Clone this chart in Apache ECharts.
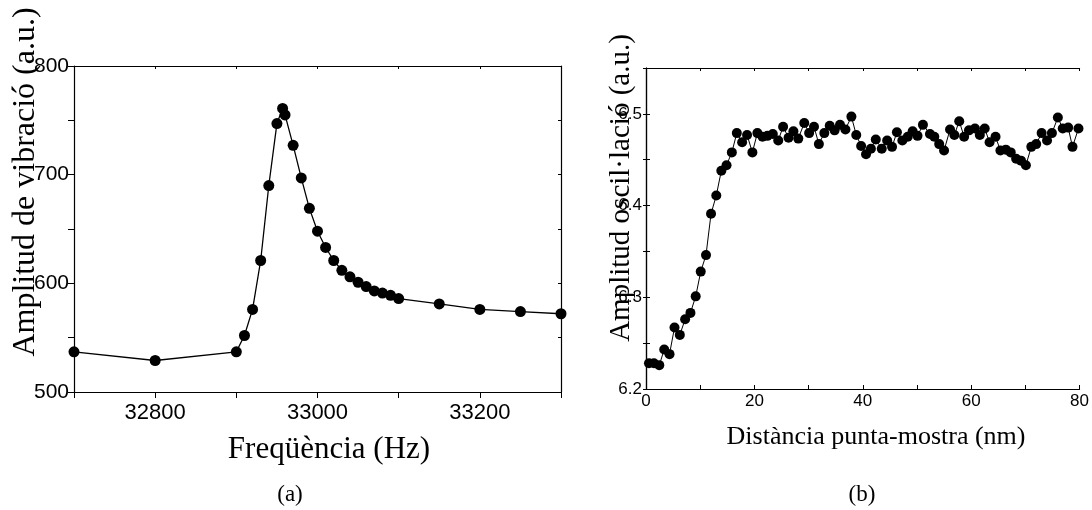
<!DOCTYPE html>
<html>
<head>
<meta charset="utf-8">
<script src="https://cdn.jsdelivr.net/npm/echarts@6/dist/echarts.min.js"></script>
<style>
  html, body { margin: 0; padding: 0; background: #fff; }
  #chart { width: 1092px; height: 510px; }
</style>
</head>
<body>
<div id="chart"></div>
<script>
// (a) resonance curve
const freq = [32700, 32800, 32900, 32910, 32920, 32930, 32940, 32950, 32957, 32960, 32970, 32980, 32990, 33000,
  33010, 33020, 33030, 33040, 33050, 33060, 33070, 33080, 33090, 33100, 33150, 33200, 33250, 33300];
const amp = [537, 529, 537, 552, 576, 621, 690, 747, 761, 755, 727, 697, 669, 648,
  633, 621, 612, 606, 601, 597, 593, 591, 589, 586, 581, 576, 574, 572];
const freqLabels = [32800, 33000, 33200];
const ampLabels = [500, 600, 700, 800];

// (b) approach curve
const dist = [0.55, 1.47, 2.45, 3.36, 4.34, 5.26, 6.24, 7.22, 8.2, 9.17, 10.1, 11.07, 12.0, 12.97, 13.9, 14.86,
  15.84, 16.76, 17.74, 18.65, 19.63, 20.55, 21.5, 22.4, 23.4, 24.4, 25.3, 26.3, 27.2, 28.1, 29.2, 30.1,
  31.0, 31.9, 32.9, 33.9, 34.8, 35.8, 36.8, 37.9, 38.8, 39.7, 40.6, 41.5, 42.4, 43.5, 44.5, 45.4, 46.3,
  47.3, 48.3, 49.2, 50.1, 51.1, 52.4, 53.2, 54.1, 55.0, 56.1, 56.9, 57.8, 58.7, 59.6, 60.7, 61.6, 62.5,
  63.4, 64.5, 65.4, 66.4, 67.3, 68.3, 69.2, 70.1, 71.1, 72.0, 73.0, 74.0, 74.9, 76.0, 76.9, 77.9, 78.7, 79.8];
const osc = [6.228, 6.228, 6.226, 6.243, 6.238, 6.267, 6.259, 6.276, 6.283, 6.301, 6.328, 6.346, 6.391, 6.411,
  6.438, 6.444, 6.458, 6.479, 6.469, 6.477, 6.458, 6.479, 6.475, 6.476, 6.478, 6.471, 6.486, 6.474, 6.481,
  6.473, 6.490, 6.479, 6.486, 6.467, 6.479, 6.487, 6.482, 6.488, 6.483, 6.497, 6.477, 6.465, 6.456, 6.462,
  6.472, 6.462, 6.471, 6.464, 6.480, 6.471, 6.475, 6.481, 6.476, 6.488, 6.478, 6.475, 6.467, 6.460, 6.483,
  6.477, 6.492, 6.475, 6.482, 6.484, 6.477, 6.484, 6.469, 6.475, 6.460, 6.461, 6.458, 6.451, 6.449, 6.444,
  6.464, 6.467, 6.479, 6.471, 6.479, 6.496, 6.484, 6.485, 6.464, 6.484];
const distLabels = [0, 20, 40, 60, 80];
const oscLabels = [6.2, 6.3, 6.4, 6.5];

const sans = 'Liberation Sans';
const serif = 'Liberation Serif';
const ink = '#000';
const line = { show: true, lineStyle: { color: ink, width: 1.2 } };
const hidden = { show: false };

const chart = echarts.init(document.getElementById('chart'), null, { renderer: 'canvas' });

const pair = (xs, ys) => xs.map((x, i) => [x, ys[i]]);
const pick = (list, fmt) => (v) => list.some(l => Math.abs(l - v) < 1e-6) ? fmt(v) : '';

chart.setOption({
  animation: false,
  backgroundColor: '#fff',
  grid: [
    { left: 74, top: 66, width: 487, height: 326 },
    { left: 646, top: 68, width: 436, height: 321 }
  ],
  xAxis: [
    { gridIndex: 0, type: 'value', min: 32700, max: 33300, interval: 100, axisLine: line,
      axisTick: { show: true, inside: false, length: 6, lineStyle: { color: ink } }, splitLine: hidden,
      axisLabel: { color: ink, fontFamily: sans, fontSize: 22, margin: 10, formatter: pick(freqLabels, v => String(v)) } },
    { gridIndex: 0, type: 'value', position: 'top', min: 32700, max: 33300, interval: 100, axisLine: line,
      axisTick: { show: true, inside: true, length: 3, lineStyle: { color: ink } }, axisLabel: hidden, splitLine: hidden },
    { gridIndex: 1, type: 'value', min: 0, max: 80, interval: 10, axisLine: line,
      axisTick: { show: true, inside: true, length: 4, lineStyle: { color: ink } }, splitLine: hidden,
      axisLabel: { color: ink, fontFamily: sans, fontSize: 17, margin: 4, formatter: pick(distLabels, v => String(v)) } },
    { gridIndex: 1, type: 'value', position: 'top', min: 0, max: 80, interval: 10, axisLine: line,
      axisTick: { show: true, inside: true, length: 3, lineStyle: { color: ink } }, axisLabel: hidden, splitLine: hidden }
  ],
  yAxis: [
    { gridIndex: 0, type: 'value', min: 500, max: 800, interval: 50, axisLine: line,
      axisTick: { show: true, inside: false, length: 6, lineStyle: { color: ink } }, splitLine: hidden,
      axisLabel: { color: ink, fontFamily: sans, fontSize: 21, margin: 5, formatter: pick(ampLabels, v => String(v)) } },
    { gridIndex: 0, type: 'value', position: 'right', min: 500, max: 800, interval: 50, axisLine: line,
      axisTick: { show: true, inside: true, length: 3, lineStyle: { color: ink } }, axisLabel: hidden, splitLine: hidden },
    { gridIndex: 1, type: 'value', min: 6.2, max: 6.55, interval: 0.05, axisLine: line,
      axisTick: { show: true, inside: true, length: 4, lineStyle: { color: ink } }, splitLine: hidden,
      axisLabel: { color: ink, fontFamily: sans, fontSize: 17, margin: 4, showMaxLabel: false, formatter: pick(oscLabels, v => v.toFixed(1)) } },
    { gridIndex: 1, type: 'value', position: 'right', min: 6.2, max: 6.55, interval: 0.05, axisLine: line,
      axisTick: { show: true, inside: true, length: 3, lineStyle: { color: ink } }, axisLabel: hidden, splitLine: hidden }
  ],
  series: [
    { type: 'line', xAxisIndex: 0, yAxisIndex: 0, data: pair(freq, amp), symbol: 'circle', symbolSize: 11,
      showAllSymbol: true, lineStyle: { color: ink, width: 1.3 }, itemStyle: { color: ink } },
    { type: 'line', xAxisIndex: 2, yAxisIndex: 2, data: pair(dist, osc), symbol: 'circle', symbolSize: 10,
      showAllSymbol: true, lineStyle: { color: ink, width: 1 }, itemStyle: { color: ink } }
  ],
  graphic: [
    { type: 'text', x: 26, y: 182, rotation: Math.PI / 2, z: 10,
      style: { text: 'Amplitud de vibració (a.u.)', font: '32px "' + serif + '"', fill: ink, align: 'center', verticalAlign: 'middle' } },
    { type: 'text', x: 329, y: 450,
      style: { text: 'Freqüència (Hz)', font: '31px "' + serif + '"', fill: ink, align: 'center', verticalAlign: 'middle' } },
    { type: 'text', x: 290, y: 495,
      style: { text: '(a)', font: '23px "' + serif + '"', fill: ink, align: 'center', verticalAlign: 'middle' } },
    { type: 'text', x: 621, y: 188, rotation: Math.PI / 2, z: 10,
      style: { text: 'Amplitud oscil·lació (a.u.)', font: '29px "' + serif + '"', fill: ink, align: 'center', verticalAlign: 'middle' } },
    { type: 'text', x: 876, y: 437,
      style: { text: 'Distància punta-mostra (nm)', font: '26px "' + serif + '"', fill: ink, align: 'center', verticalAlign: 'middle' } },
    { type: 'text', x: 862, y: 495,
      style: { text: '(b)', font: '23px "' + serif + '"', fill: ink, align: 'center', verticalAlign: 'middle' } }
  ]
});

window.addEventListener('resize', () => chart.resize());
</script>
</body>
</html>
